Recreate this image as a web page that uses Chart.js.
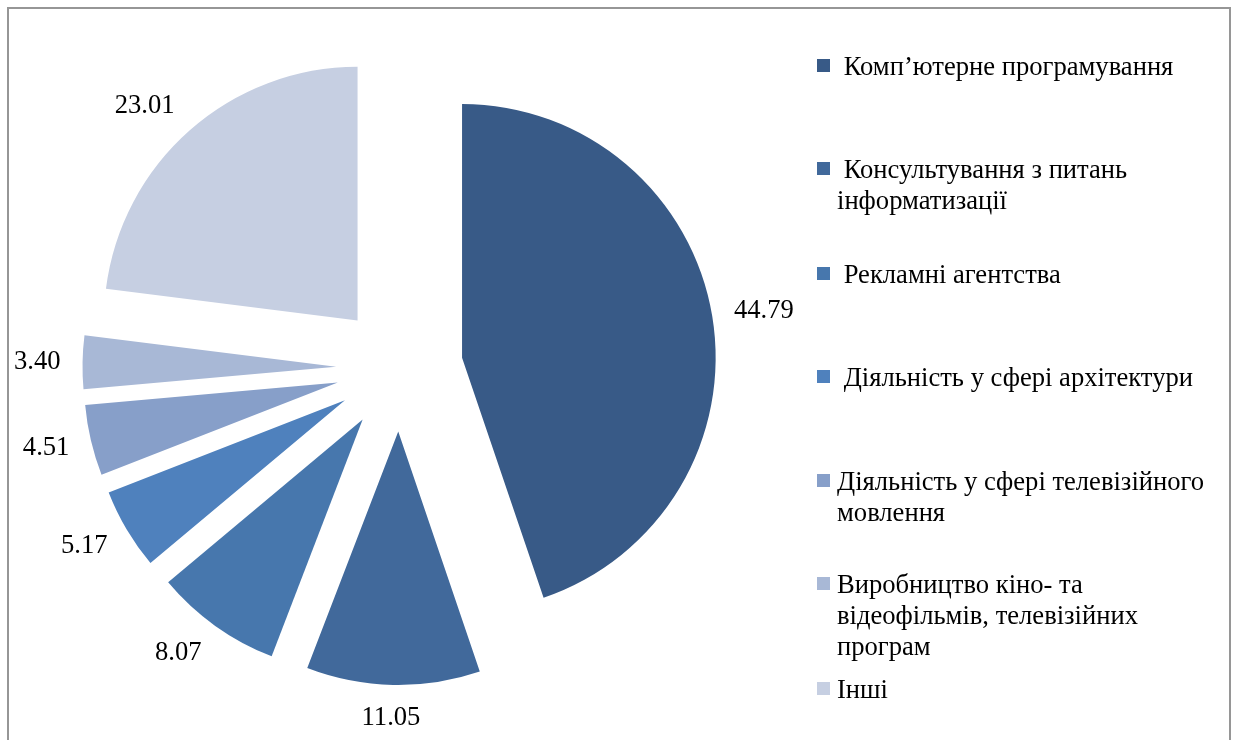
<!DOCTYPE html>
<html lang="uk">
<head>
    <meta charset="UTF-8">
    <title>Структура</title>
    <script src="https://cdn.jsdelivr.net/npm/chart.js"></script>
    <style>
        body { margin: 0; background: #fff; overflow: hidden; }
        #wrap { position: relative; width: 1237px; height: 740px; overflow: hidden; }
        #frame { position: absolute; left: 7px; top: 7px; width: 1220px; height: 760px; border: 2px solid #969696; border-bottom: none; }
        canvas { position: absolute; left: 0; top: 0; }
        .item { position: absolute; left: 817px; font-family: "Liberation Serif", "Times New Roman", serif; font-size: 26.6px; line-height: 31px; color: #000; }
        .box { position: absolute; left: 0; top: 8px; width: 13px; height: 13px; }
        .txt { position: absolute; left: 20px; top: 0; white-space: pre; }
    </style>
</head>
<body>
<div id="wrap">
    <div id="frame"></div>
    <canvas id="pieChart" width="1237" height="740"></canvas>
    <div id="legend"></div>
</div>
<script>
    // дані
    const labels = [
        [' Комп’ютерне програмування'],
        [' Консультування з питань', 'інформатизації'],
        [' Рекламні агентства'],
        [' Діяльність у сфері архітектури'],
        ['Діяльність у сфері телевізійного', 'мовлення'],
        ['Виробництво кіно- та', 'відеофільмів, телевізійних', 'програм'],
        ['Інші']
    ];
    const values = [44.79, 11.05, 8.07, 5.17, 4.51, 3.40, 23.01];
    const colors = ['#385A87', '#41699B', '#4777AD', '#4F81BD', '#879FC9', '#A8B8D6', '#C6CFE2'];

    // розмітка
    const legendCenters = [65, 168, 273, 376, 480, 583, 688];
    const EXPLODE = 63.4;
    const FONT = '26.6px "Liberation Serif", "Times New Roman", serif';

    // легенда
    const legend = document.getElementById('legend');
    labels.forEach((lines, i) => {
        const item = document.createElement('div');
        item.className = 'item';
        item.style.top = (legendCenters[i] - 14) + 'px';
        const box = document.createElement('div');
        box.className = 'box';
        box.style.background = colors[i];
        const txt = document.createElement('div');
        txt.className = 'txt';
        txt.textContent = lines.join('\n');
        item.appendChild(box);
        item.appendChild(txt);
        legend.appendChild(item);
    });

    // розсунуті сектори + підписи значень
    const explodePlugin = {
        id: 'explode',
        beforeDatasetsDraw(chart) {
            const ctx = chart.ctx;
            chart.getDatasetMeta(0).data.forEach(arc => {
                const mid = (arc.startAngle + arc.endAngle) / 2;
                ctx.save();
                ctx.translate(Math.cos(mid) * EXPLODE, Math.sin(mid) * EXPLODE);
                arc.draw(ctx);
                ctx.restore();
            });
            return false;
        },
        afterDraw(chart) {
            const ctx = chart.ctx;
            ctx.save();
            ctx.font = FONT;
            ctx.fillStyle = '#000';
            ctx.textAlign = 'center';
            ctx.textBaseline = 'middle';
            chart.getDatasetMeta(0).data.forEach((arc, i) => {
                const mid = (arc.startAngle + arc.endAngle) / 2;
                const c = Math.cos(mid), s = Math.sin(mid);
                const r = EXPLODE + arc.outerRadius;
                const text = values[i].toFixed(2);
                const w = ctx.measureText(text).width;
                const k = Math.max(-1, Math.min(1, c * 3));
                const x = arc.x + c * r + c * 20 + k * (w / 2 + 2);
                const y = arc.y + s * r + s * 33;
                ctx.fillText(text, x, y);
            });
            ctx.restore();
        }
    };

    new Chart(document.getElementById('pieChart'), {
        type: 'pie',
        data: {
            labels: labels,
            datasets: [{
                data: values,
                backgroundColor: colors,
                borderWidth: 0,
                radius: 253.6
            }]
        },
        options: {
            responsive: false,
            animation: false,
            events: [],
            layout: { padding: { left: 0, right: 438, top: 0, bottom: 4 } },
            plugins: {
                legend: { display: false },
                tooltip: { enabled: false }
            }
        },
        plugins: [explodePlugin]
    });
</script>
</body>
</html>
